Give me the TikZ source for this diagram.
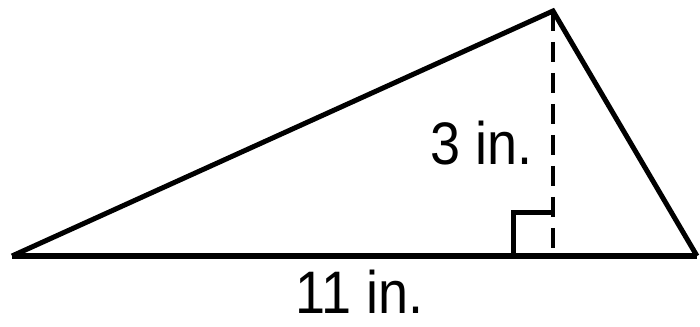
\documentclass[tikz,border=0pt]{standalone}
\usepackage{fontspec}
\setmainfont{Liberation Sans}
\tikzset{epais/.style={line width=6pt}, fin/.style={line width=5pt}}
\newcommand{\cote}[3]{\node[font=\fontsize{60}{60}\selectfont, xscale=0.9, inner sep=0pt] (#1) at (#2) {#3}}

\begin{document}
\begin{tikzpicture}[x=1pt, y=1pt]
\useasboundingbox (0,0) rectangle (700,326);
%Vertices
	\coordinate (A) at (12,70);
	\coordinate (B) at (697,70);
	\coordinate (C) at (553,315);
	\coordinate (H) at (553,70);
	\coordinate (Q) at (513,113);
%Sides
	\draw[fin, line join=miter] (A) -- (C) -- (B);
	\draw[epais] (A) -- (B);
%Height
	\draw[line width=4pt, dash pattern=on 20pt off 11pt] (C) -- (H);
	\draw[fin] (H -| Q) -- (Q) -- (Q -| H);
%Labels
	\cote{hauteur}{482,183}{3 in.};
	\cote{base}{360,34}{11 in.};
\end{tikzpicture}
\end{document}
